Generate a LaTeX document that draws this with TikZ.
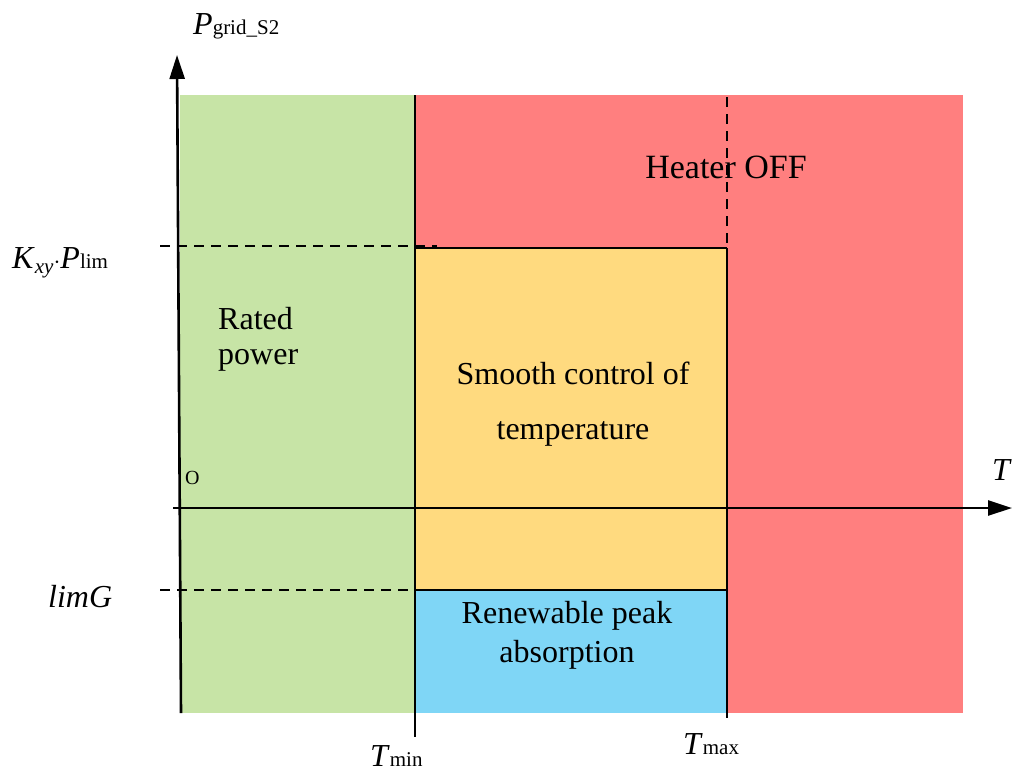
\documentclass[tikz,border=0pt]{standalone}
\usepackage{fontspec}
\setmainfont{Liberation Serif}
\usetikzlibrary{arrows.meta}
\definecolor{zgreen}{RGB}{199,228,166}
\definecolor{zred}{RGB}{255,127,127}
\definecolor{zyellow}{RGB}{255,218,127}
\definecolor{zblue}{RGB}{127,214,246}
\newcommand{\subsz}[1]{{\fontsize{21}{24}\selectfont #1}}
\tikzset{
  ln/.style={line width=2.8pt, black},
  dln/.style={line width=2.8pt, black, dash pattern=on 10pt off 7pt},
  axis/.style={line width=2.6pt, black, -{Triangle[length=24pt,width=15pt]}},
  lbl/.style={inner sep=0pt, font=\fontsize{32}{35}\selectfont, align=left},
  clbl/.style={inner sep=0pt, font=\fontsize{32}{39}\selectfont, align=center},
  albl/.style={inner sep=0pt, font=\fontsize{32}{36}\selectfont},
}
\begin{document}
\begin{tikzpicture}[x=1pt,y=-1pt]
\useasboundingbox (0,0) rectangle (1024,777);
% regions
\fill[zgreen] (180,95) rectangle (415,713);
\fill[zred] (415,95) rectangle (963,713);
\fill[zyellow] (415,248) rectangle (727,590);
\fill[zblue] (415,590) rectangle (727,713);
% coordinates
\coordinate (ybot) at (181,713);
\coordinate (ytop) at (177,55);
\coordinate (xl) at (173,508);
\coordinate (xr) at (1012,508);
\coordinate (tminTop) at (415,95);
\coordinate (tminBot) at (415,737);
\coordinate (tmaxTop) at (727,97);
\coordinate (tmaxMid) at (727,248);
\coordinate (tmaxBot) at (727,718);
\coordinate (kxyL) at (160,246);
\coordinate (kxyR) at (437,246);
\coordinate (kxyS) at (415,248);
\coordinate (limL) at (160,590);
\coordinate (limR) at (415,590);
\coordinate (limE) at (727,590);
% lines
\draw[dln] (kxyL) -- (kxyR);
\draw[dln] (limL) -- (limR);
\draw[ln] (tminTop) -- (tminBot);
\draw[dln] (tmaxTop) -- (tmaxMid);
\draw[ln] (tmaxMid) -- (tmaxBot);
\draw[ln] (kxyS) -- (tmaxMid);
\draw[ln] (limR) -- (limE);
\draw[axis] (ybot) -- (ytop);
\draw[axis] (xl) -- (xr);
% labels
\node[albl, anchor=base west] (py) at (193,34) {\textit{P}\subsz{grid\_S2}};
\node[albl, anchor=base west] (kxy) at (12,268) {\textit{K}\raisebox{-5pt}{\subsz{\textit{xy}}}$\cdot$\textit{P}\subsz{lim}};
\node[albl, anchor=base west] (limg) at (48,607) {\itshape limG};
\node[inner sep=0pt, anchor=base west, font=\fontsize{20}{24}\selectfont] (o) at (185,484) {O};
\node[albl, anchor=base west] (tx) at (992,480) {\textit{T}};
\node[albl, anchor=base west] (tmin) at (370,766) {\textit{T}\subsz{min}};
\node[albl, anchor=base west] (tmax) at (683,754) {\textit{T}\subsz{max}};
\node[lbl, anchor=base west] (rated) at (218,364) {Rated\\power};
\node[inner sep=0pt, font=\fontsize{32}{55}\selectfont, align=center] (smooth) at (573,404) {Smooth control of\\temperature};
\node[inner sep=0pt, font=\fontsize{34}{40}\selectfont] (heater) at (726,167) {Heater OFF};
\node[clbl] (renew) at (567,635) {Renewable peak\\absorption};
\end{tikzpicture}
\end{document}
